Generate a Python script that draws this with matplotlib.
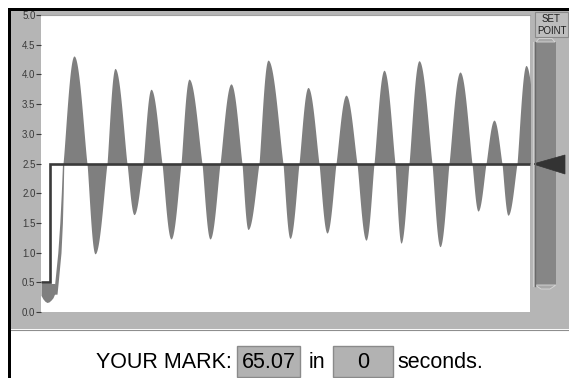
import numpy as np
import matplotlib
matplotlib.use("Agg")
import matplotlib.pyplot as plt
from matplotlib.patches import Rectangle, Polygon

# ---------------- data (x in chart units, 0..489) ----------------
yticks = [0.0, 0.5, 1.0, 1.5, 2.0, 2.5, 3.0, 3.5, 4.0, 4.5, 5.0]
ytick_labels = ["0.0", "0.5", "1.0", "1.5", "2.0", "2.5", "3.0", "3.5", "4.0", "4.5", "5.0"]

setpoint_x = [0, 9, 9, 489]
setpoint_y = [0.5, 0.5, 2.5, 2.5]
setpoint_value = 2.5

# initial band (before step response)
init_x = [0, 2, 4, 6, 8, 10, 12, 14]
init_hi = [0.48, 0.48, 0.48, 0.48, 0.48, 0.48, 0.48, 0.48]
init_lo = [0.28, 0.22, 0.18, 0.16, 0.17, 0.20, 0.24, 0.32]

# rising edge (band)
rise_y = [0.3, 0.5, 1.0, 1.5, 2.0, 2.5]
rise_left = [12.5, 13.8, 16.8, 18.8, 20.3, 21.5]
rise_right = [16.0, 17.2, 20.0, 21.4, 22.2, 22.8]

# oscillation lobes around the set point: crossing start, extremum position, extremum value
lobe_start = [22, 46, 66, 86, 102, 121, 140, 161, 179, 201, 218, 242, 258,
              278, 295, 316, 333, 354, 368, 391, 408, 431, 445, 461, 476]
lobe_peak = [33, 54, 74, 93, 110, 130, 148, 169, 190, 207, 227, 249, 267,
             286, 305, 325, 343, 360, 378, 399, 419, 437, 453, 467, 485]
lobe_value = [4.31, 0.98, 4.10, 1.64, 3.75, 1.23, 3.92, 1.23, 3.84, 1.39, 4.24, 1.24, 3.78,
              1.33, 3.65, 1.21, 4.07, 1.16, 4.23, 1.10, 4.04, 1.70, 3.23, 1.63, 4.15]
last_lobe_end = 497

mark_value = "65.07"
time_value = "0"

# ---------------- figure ----------------
W, H = 569, 378
fig = plt.figure(figsize=(W / 100, H / 100), dpi=100, facecolor="white")
FONT = "Liberation Sans"

bg = fig.add_axes([0, 0, 1, 1])
bg.set_xlim(0, W)
bg.set_ylim(H, 0)
bg.axis("off")
bg.set_zorder(0)

PANEL = "#b5b5b5"
# gray panel
bg.add_patch(Rectangle((11, 11), W - 11, 318, facecolor=PANEL, edgecolor="none"))
bg.plot([11, W], [329.5, 329.5], color="#8e8e8e", lw=0.8)
# black borders
bg.add_patch(Rectangle((8, 8), W - 8, 3, facecolor="black", edgecolor="none"))
bg.add_patch(Rectangle((8, 8), 3, H - 8, facecolor="black", edgecolor="none"))

# SET POINT box
bg.add_patch(Rectangle((535, 12), 33, 25, facecolor="#bdbdbd", edgecolor="#8a8a8a", lw=0.8))
bg.text(551.5, 19.5, "SET", ha="center", va="center", fontsize=7, family=FONT, color="#202020")
bg.text(551.5, 31, "POINT", ha="center", va="center", fontsize=7, family=FONT, color="#202020")

# slider track
bg.add_patch(Rectangle((535, 42), 21, 244, facecolor="#868686", edgecolor="none"))
bg.plot([535.5, 535.5], [42, 286], color="#6a6a6a", lw=1)
bg.plot([533.5, 533.5], [42, 286], color="#cfcfcf", lw=0.8)
# caps
bg.add_patch(Polygon([[536, 42], [539, 38.5], [552, 38.5], [555, 42]], closed=True,
                     facecolor="#a8a8a8", edgecolor="#d8d8d8", lw=0.6))
bg.add_patch(Polygon([[535, 285], [556, 285], [550, 289], [541, 289]], closed=True,
                     facecolor="#a8a8a8", edgecolor="#d8d8d8", lw=0.6))
# pointer
bg.add_patch(Polygon([[533, 164], [565, 155], [565, 174]], closed=True,
                     facecolor="#333333", edgecolor="#333333", lw=0.5))

# bottom text
TXT_KW = dict(fontsize=15.5, family=FONT, color="black", va="baseline")
bg.text(96, 368, "YOUR MARK:", ha="left", **TXT_KW)
bg.add_patch(Rectangle((237, 346), 63, 31, facecolor="#b2b2b2", edgecolor="#8a8a8a", lw=1))
bg.text(268.5, 368, mark_value, ha="center", **TXT_KW)
bg.text(309, 368, "in", ha="left", **TXT_KW)
bg.add_patch(Rectangle((333, 346), 60, 31, facecolor="#b2b2b2", edgecolor="#8a8a8a", lw=1))
bg.text(363, 368, time_value, ha="center", **TXT_KW)
bg.text(397, 368, "seconds.", ha="left", **TXT_KW)

# ---------------- chart axes ----------------
left, right, top, bottom = 41, 530, 15, 312
ax = fig.add_axes([left / W, (H - bottom) / H, (right - left) / W, (bottom - top) / H])
ax.set_zorder(1)
ax.set_facecolor("white")
ax.set_xlim(0, 489)
ax.set_ylim(0, 5)
for s in ax.spines.values():
    s.set_visible(False)
ax.spines["top"].set_visible(True)
ax.spines["top"].set_color("#a0a0a0")
ax.spines["top"].set_linewidth(0.8)
ax.set_xticks([])
ax.set_yticks(yticks)
ax.set_yticklabels(ytick_labels, fontsize=7, family=FONT, color="#3a3a3a")
ax.tick_params(axis="y", direction="out", length=3.5, width=0.8, color="#3a3a3a", pad=0.5)

FILL = "#7f7f7f"
# initial band
ax.fill_between(init_x, init_lo, init_hi, color=FILL, lw=0)
# rising band
ax.fill_betweenx(rise_y, rise_left, rise_right, color=FILL, lw=0)

# lobes
ends = lobe_start[1:] + [last_lobe_end]
for a, p, b, v in zip(lobe_start, lobe_peak, ends, lobe_value):
    t1 = np.linspace(a, p, 40)
    t2 = np.linspace(p, b, 40)
    u1 = np.sin(np.pi / 2 * (t1 - a) / (p - a)) ** 1.15
    u2 = np.sin(np.pi / 2 * (b - t2) / (b - p)) ** 1.15
    t = np.concatenate([t1, t2])
    y = setpoint_value + (v - setpoint_value) * np.concatenate([u1, u2])
    ax.fill_between(t, y, setpoint_value, color=FILL, lw=0)

# set point line
ax.plot(setpoint_x, setpoint_y, color="#3a3a3a", lw=1.9, solid_capstyle="butt",
        solid_joinstyle="miter", clip_on=False)

fig.savefig("out.png", dpi=100, facecolor="white")
